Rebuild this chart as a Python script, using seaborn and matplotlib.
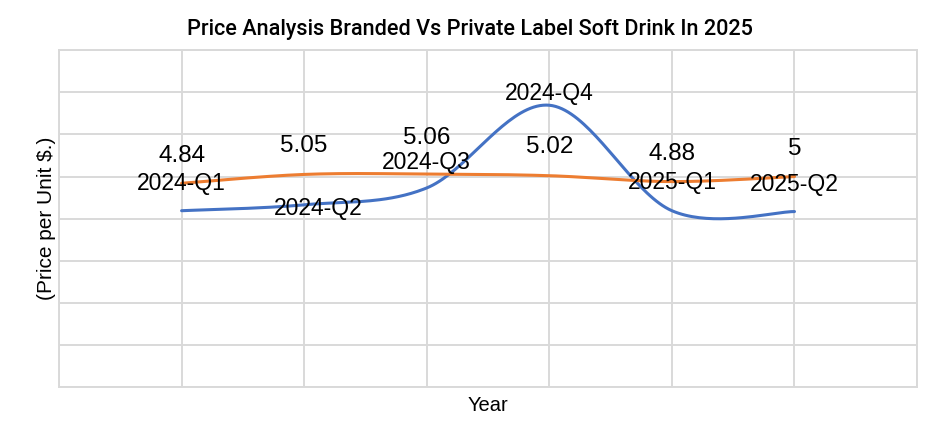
import numpy as np
import pandas as pd
import matplotlib
matplotlib.use("Agg")
import matplotlib.pyplot as plt
import seaborn as sns
from matplotlib import font_manager

# Data
quarters = ["2024-Q1", "2024-Q2", "2024-Q3", "2024-Q4", "2025-Q1", "2025-Q2"]
branded = [4.19, 4.33, 4.73, 6.69, 4.19, 4.17]
private_label = [4.84, 5.05, 5.06, 5.02, 4.88, 5.00]

# label offsets in pixels (dx, dy)
branded_offsets = [(0, 27), (14, -4), (0, 25), (0, 12), (0, 28), (0, 27)]
private_offsets = [(0, 27), (0, 28), (0, 36), (0, 29), (0, 28), (0, 28)]

sns.set_style("white")
plt.rcParams["font.family"] = ["Liberation Sans", "DejaVu Sans"]
plt.rcParams["text.color"] = "black"
plt.rcParams["axes.labelcolor"] = "black"


def smooth(y, n=40):
    # Catmull-Rom style bezier smoothing (like Excel smoothed lines)
    x = np.arange(1, len(y) + 1, dtype=float)
    y = np.asarray(y, dtype=float)
    px = np.concatenate([[x[0]], x, [x[-1]]])
    py = np.concatenate([[y[0]], y, [y[-1]]])
    xs, ys = [], []
    t = np.linspace(0, 1, n)
    for i in range(1, len(px) - 2):
        p0 = np.array([px[i], py[i]])
        p3 = np.array([px[i + 1], py[i + 1]])
        p1 = p0 + (np.array([px[i + 1], py[i + 1]]) - np.array([px[i - 1], py[i - 1]])) / 6
        p2 = p3 - (np.array([px[i + 2], py[i + 2]]) - np.array([px[i], py[i]])) / 6
        b = ((1 - t) ** 3)[:, None] * p0 + (3 * (1 - t) ** 2 * t)[:, None] * p1 \
            + (3 * (1 - t) * t ** 2)[:, None] * p2 + (t ** 3)[:, None] * p3
        xs.extend(b[:, 0])
        ys.extend(b[:, 1])
    return np.array(xs), np.array(ys)


bx, by = smooth(branded)
ox, oy = smooth(private_label)
df = pd.concat([
    pd.DataFrame({"x": bx, "price": by, "series": "Branded"}),
    pd.DataFrame({"x": ox, "price": oy, "series": "Private Label"}),
])

fig = plt.figure(figsize=(9.4, 4.26), dpi=100)
ax = fig.add_axes([0.0628, 0.0904, 0.9128, 0.7923])

sns.lineplot(data=df, x="x", y="price", hue="series", sort=False,
             palette={"Branded": "#4472c4", "Private Label": "#ed7d31"},
             linewidth=2.2, legend=False, ax=ax)

ax.set_xlim(0, 7)
ax.set_ylim(0, 8)
ax.set_xticks(range(0, 8))
ax.set_yticks(range(0, 9))
ax.grid(True, color="#d9d9d9", linewidth=1.4)
ax.tick_params(length=0, labelbottom=False, labelleft=False)
for s in ax.spines.values():
    s.set_color("#d9d9d9")
    s.set_linewidth(1.4)

for i, q in enumerate(quarters):
    ax.annotate(q, (i + 1, branded[i]), xytext=branded_offsets[i],
                textcoords="offset pixels", ha="center", va="center", fontsize=16.5)
    ax.annotate(f"{private_label[i]:g}", (i + 1, private_label[i]), xytext=private_offsets[i],
                textcoords="offset pixels", ha="center", va="center", fontsize=17.5)

ax.set_xlabel("Year", fontsize=14.5, labelpad=6)
ax.set_ylabel("(Price per Unit $.)", fontsize=15, labelpad=2)

names = {f.name for f in font_manager.fontManager.ttflist}
title_font = ["Liberation Sans Narrow", "Roboto", "Liberation Sans"]
title_font = [f for f in title_font if f in names]
fig.text(0.5, 0.93, "Price Analysis Branded Vs Private Label Soft Drink In 2025",
         ha="center", va="center", fontsize=15.6, family=title_font[0],
         fontweight="medium", fontstretch="condensed")

fig.savefig("out.png", dpi=100)
